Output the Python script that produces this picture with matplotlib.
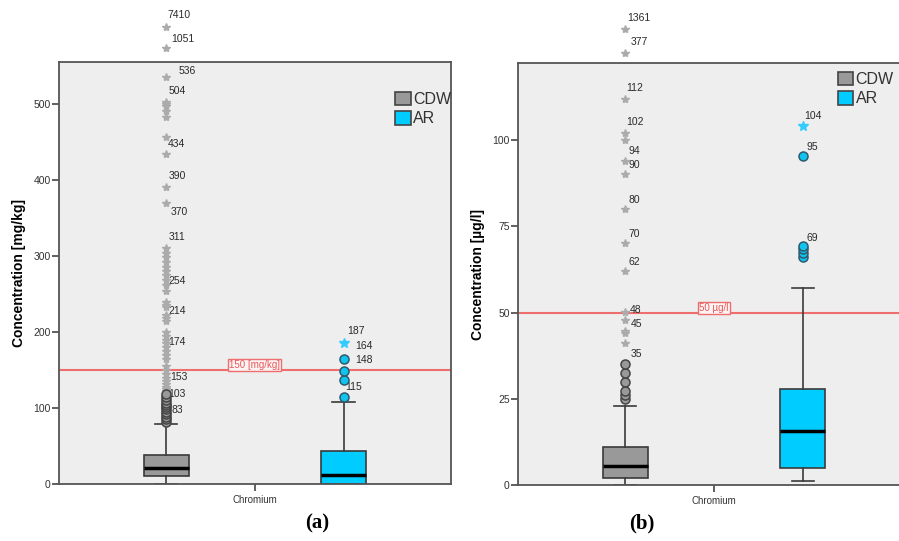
from matplotlib import pyplot as plt
from matplotlib.patches import Patch

# panel (a) - Chromium in mg/kg
a_cdw_box = [0, 10.5, 21, 38, 79]        # whislo, q1, median, q3, whishi
a_ar_box = [0, 0, 12, 44, 107.5]
a_cdw_circles = [82, 85, 88, 92, 95, 98, 101, 104, 107, 110, 114, 118]
a_cdw_stars = [122, 125, 128, 131, 135, 140, 145, 150, 155, 165, 170, 175, 180,
               185, 190, 195, 200, 215, 218, 222, 233, 236, 240, 254, 262, 268,
               275, 280, 286, 292, 298, 304, 310, 369, 390, 434, 457, 483, 490,
               497, 500, 503, 535, 574, 601]
a_ar_circles = [114.5, 137, 148, 164]
a_ar_stars = [185.5]
a_cdw_labels = ['7410', '1051', '536', '504', '434', '390', '370', '311',
                '254', '214', '174', '153', '103', '83']
a_cdw_label_vals = [601, 574, 535, 503, 434, 390, 369, 312, 254, 218, 178, 128, 118, 97]
a_ar_labels = ['187', '164', '148', '115']
a_ar_label_vals = [185.5, 185.5, 164, 137]
a_limit = 150

# panel (b) - Chromium in ug/l
b_cdw_box = [0, 1.9, 5.6, 10.9, 23]
b_ar_box = [1.2, 4.9, 15.8, 27.9, 57.1]
b_cdw_circles = [24.9, 26.1, 27.4, 30, 32.4, 35]
b_cdw_stars = [41.1, 44.2, 44.6, 48, 50.1, 62.2, 70.1, 80, 90.1, 94, 100,
               102, 112, 125.3, 132.4]
b_ar_circles = [66.2, 67.4, 68.5, 69.3, 95.3]
b_ar_stars = [104.1]
b_cdw_labels = ['1361', '377', '112', '102', '94', '90', '80', '70', '62',
                '48', '45', '35']
b_cdw_label_vals = [132.4, 125.3, 112, 102, 94, 90.1, 80, 70.1, 62.2, 50.1, 48, 41.1]
b_ar_labels = ['104', '95', '69']
b_ar_label_vals = [104.1, 95.3, 69.3]
b_limit = 50

# offsets of the case labels (pixels right, pixels up)
a_cdw_offs = [(1, 12), (5, 9), (12, 6), (2, 11), (1, 10), (2, 11), (4, -9),
              (2, 10), (2, 10), (2, 7), (2, 7), (4, 10), (2, 0), (5, 0)]
a_ar_offs = [(4, 12), (12, -3), (12, -1), (2, -7)]
b_cdw_offs = [(2, 11), (5, 11), (1, 11), (1, 11), (3, 10), (3, 9), (3, 9),
              (3, 9), (3, 9), (4, 2), (5, -4), (5, -11)]
b_ar_offs = [(2, 10), (4, 9), (4, 8)]

gray = '#999999'
cyan = '#00CCFF'
edge = '#3a3a3a'


def stats(b):
    return {'whislo': b[0], 'q1': b[1], 'med': b[2], 'q3': b[3], 'whishi': b[4], 'fliers': []}


def draw_panel(ax, cdw_box, ar_box, cdw_c, cdw_s, ar_c, ar_s,
               cdw_lab, cdw_lv, cdw_offs, ar_lab, ar_lv, ar_offs,
               limit, limit_text, ymax, yticks, ylabel, leg_pos):
    ax.set_facecolor('#EEEEEE')
    bp = ax.bxp([stats(cdw_box), stats(ar_box)], positions=[1, 2], widths=0.254,
                patch_artist=True, showfliers=False,
                boxprops=dict(edgecolor=edge, linewidth=1.2),
                whiskerprops=dict(color=edge, linewidth=1.2),
                capprops=dict(color=edge, linewidth=1.2),
                medianprops=dict(color='black', linewidth=2.5),
                capwidths=0.125)
    bp['boxes'][0].set_facecolor(gray)
    bp['boxes'][1].set_facecolor(cyan)

    ax.axhline(limit, color='#EE6E6E', linewidth=1.5, zorder=1)
    ax.text(1.5, limit, limit_text, color='#E85858', fontsize=7, ha='center',
            va='bottom', family='Liberation Sans',
            bbox=dict(boxstyle='square,pad=0.1', fc='#FFF4F4', ec='#EE6E6E', lw=1))

    ax.plot([1] * len(cdw_s), cdw_s, linestyle='none', marker='*', markersize=6,
            color='#ABABAB', clip_on=False, zorder=4)
    ax.plot([1] * len(cdw_c), cdw_c, linestyle='none', marker='o', markersize=6.5,
            markerfacecolor=gray, markeredgecolor='#444444', markeredgewidth=1.1, zorder=5)
    ax.plot([2] * len(ar_s), ar_s, linestyle='none', marker='*', markersize=7,
            color='#33CCFF', clip_on=False, zorder=4)
    ax.plot([2] * len(ar_c), ar_c, linestyle='none', marker='o', markersize=6.5,
            markerfacecolor='#11C4F0', markeredgecolor='#2E5A6E', markeredgewidth=1.1, zorder=5)

    for pos, labs, vals, offs in [(1, cdw_lab, cdw_lv, cdw_offs), (2, ar_lab, ar_lv, ar_offs)]:
        for lab, v, (dx, dy) in zip(labs, vals, offs):
            ax.annotate(lab, (pos, v), xytext=(dx * 0.72, dy * 0.72),
                        textcoords='offset points', fontsize=7.5, color='#2a2a2a',
                        ha='left', va='center', family='Liberation Sans',
                        annotation_clip=False)

    ax.set_xlim(0.394, 2.606)
    ax.set_ylim(0, ymax)
    ax.set_yticks(yticks)
    ax.set_xticks([1.5])
    ax.set_xticklabels(['Chromium'], fontsize=7, color='#333333', family='Liberation Sans')
    ax.tick_params(axis='y', length=5, width=1.2, pad=1, labelsize=7.5,
                   labelcolor='#333333', color='#444444')
    ax.tick_params(axis='x', length=5, width=1.2, pad=3, color='#444444')
    for lbl in ax.get_yticklabels():
        lbl.set_family('Liberation Sans')
    for s in ax.spines.values():
        s.set_color('#555555')
        s.set_linewidth(1.3)
    ax.set_ylabel(ylabel, fontsize=10, fontweight='bold', family='Liberation Sans',
                  labelpad=5)

    handles = [Patch(facecolor=gray, edgecolor='#444444', linewidth=1.2, label='CDW'),
               Patch(facecolor=cyan, edgecolor='#444444', linewidth=1.2, label='AR')]
    ax.legend(handles=handles, loc='upper left', bbox_to_anchor=leg_pos,
              frameon=False, handlelength=0.95, handleheight=0.95, handletextpad=0.15,
              labelspacing=0.25, borderaxespad=0,
              prop={'family': 'Liberation Sans', 'size': 11.5}, labelcolor='#333333')


fig = plt.figure(figsize=(8.99, 5.41), dpi=100)
ax1 = fig.add_axes([0.0656, 0.1054, 0.436, 0.78])
ax2 = fig.add_axes([0.5762, 0.1035, 0.436, 0.78])

draw_panel(ax1, a_cdw_box, a_ar_box, a_cdw_circles, a_cdw_stars, a_ar_circles, a_ar_stars,
           a_cdw_labels, a_cdw_label_vals, a_cdw_offs, a_ar_labels, a_ar_label_vals, a_ar_offs,
           a_limit, '150 [mg/kg]', 555, [0, 100, 200, 300, 400, 500],
           'Concentration [mg/kg]', (0.842, 0.945))
# legend of panel (b) nudged left so CDW stays inside the picture
draw_panel(ax2, b_cdw_box, b_ar_box, b_cdw_circles, b_cdw_stars, b_ar_circles, b_ar_stars,
           b_cdw_labels, b_cdw_label_vals, b_cdw_offs, b_ar_labels, b_ar_label_vals, b_ar_offs,
           b_limit, '50 µg/l', 122.4, [0, 25, 50, 75, 100],
           'Concentration [µg/l]', (0.80, 0.995))

fig.text(317 / 899, 1 - 523 / 541, '(a)', fontsize=15, fontweight='bold',
         family='Liberation Serif', ha='center', va='center')
fig.text(642 / 899, 1 - 523 / 541, '(b)', fontsize=15, fontweight='bold',
         family='Liberation Serif', ha='center', va='center')

plt.savefig('out.png', dpi=100)
